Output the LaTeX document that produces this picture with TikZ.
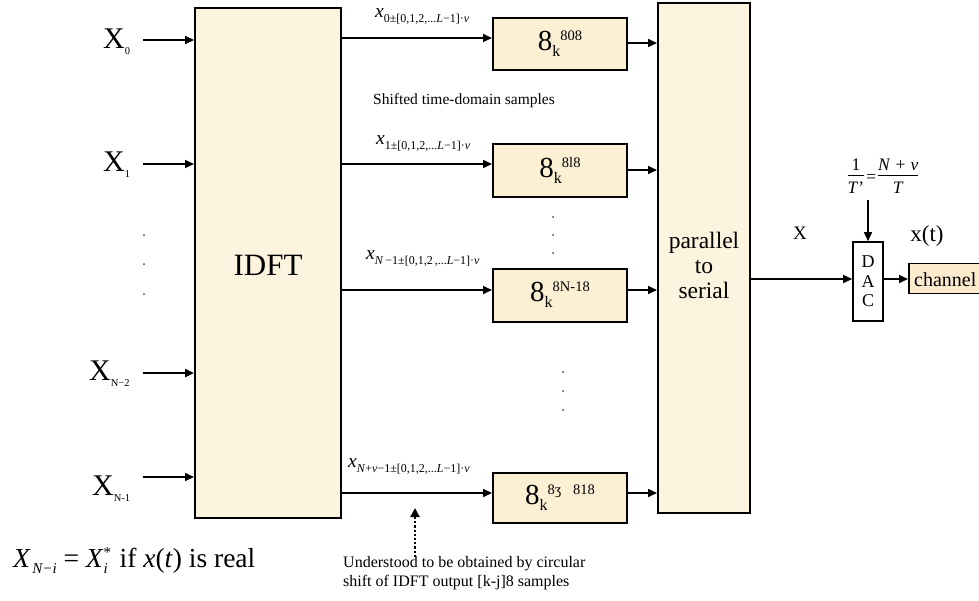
\documentclass[tikz,border=0pt]{standalone}
\usepackage{fontspec}
\setmainfont{Liberation Serif}
\usetikzlibrary{arrows.meta}

% big "8" with subscript k and a superscript index
\newcommand\kblock[1]{{\fontsize{29}{29}\selectfont 8}\raisebox{-6pt}{\fontsize{16}{16}\selectfont k}\raisebox{10pt}{\fontsize{14.5}{14.5}\selectfont #1}}
% input symbol X with a small subscript
\newcommand\insym[1]{{\fontsize{30}{30}\selectfont X}\raisebox{-6pt}{\fontsize{10.5}{10.5}\selectfont #1}}
% sample label x with a long subscript
\newcommand\samp[1]{{\fontsize{19.5}{19.5}\selectfont\itshape x}\raisebox{-5pt}{\fontsize{12}{12}\selectfont #1}}
% simple stacked fraction
\newcommand\stfrac[2]{\begin{tabular}{@{}c@{}}#1\\[-1pt]\hline\rule{0pt}{1.05em}#2\end{tabular}}

\definecolor{creamA}{HTML}{FDF4DF}
\definecolor{creamB}{HTML}{FBEFD4}
\definecolor{creamC}{HTML}{FCEBCD}

\tikzset{
  bigbox/.style={draw, line width=2pt, fill=creamA, inner sep=0pt},
  kbox/.style={draw, line width=2pt, fill=creamB, minimum width=134pt, inner sep=0pt},
  arr/.style={line width=1.6pt, -{Triangle[length=9pt,width=8pt]}},
  dotpt/.style={fill=black!75, draw=none, circle, inner sep=0pt, minimum size=2pt},
}

\begin{document}
\begin{tikzpicture}[x=1pt,y=-1pt]
\useasboundingbox (0,0) rectangle (979,600);

% main blocks
\node[bigbox, minimum width=146pt, minimum height=510pt] (idft) at (268,263) {};
\node[inner sep=0pt, font=\fontsize{31}{31}\selectfont] (idftlbl) at (268,265) {IDFT};
\node[bigbox, minimum width=92pt, minimum height=510pt] (ps) at (704,258) {};
\node[inner sep=0pt, align=center, font=\fontsize{23.5}{25}\selectfont] (pslbl) at (704,265) {parallel\\to\\serial};

% shifted sample blocks
\node[kbox, minimum height=52pt] (b1) at (560,44) {\kblock{808}};
\node[kbox, minimum height=53pt] (b2) at (560,170) {\kblock{8l8}};
\node[kbox, minimum height=53pt] (b3) at (560,295) {\kblock{8N-18}};
\node[kbox, minimum height=50pt] (b4) at (560,498) {\kblock{8ʒ\hspace{12pt}818}};

% inputs
\node[anchor=base west, inner sep=0pt] (X0) at (103,48) {\insym{0}};
\node[anchor=base west, inner sep=0pt] (X1) at (103,171) {\insym{1}};
\node[anchor=base west, inner sep=0pt] (X2) at (89,380) {\insym{N−2}};
\node[anchor=base west, inner sep=0pt] (X3) at (92,495) {\insym{N-1}};
\coordinate (i0) at (143,40);
\coordinate (i1) at (143,164);
\coordinate (i2) at (143,373);
\coordinate (i3) at (143,477);
\draw[arr] (i0) -- (i0 -| idft.west);
\draw[arr] (i1) -- (i1 -| idft.west);
\draw[arr, line width=2.6pt] (i2) -- (i2 -| idft.west);
\draw[arr] (i3) -- (i3 -| idft.west);

\node[dotpt] (ld1) at (144,235) {};
\node[dotpt] (ld2) at (144,264) {};
\node[dotpt] (ld3) at (144,294) {};

% IDFT outputs into the shift blocks
\draw[arr] (idft.east |- 0,38) -- (b1.west |- 0,38);
\draw[arr] (idft.east |- 0,164) -- (b2.west |- 0,164);
\draw[arr] (idft.east |- 0,290) -- (b3.west |- 0,290);
\draw[arr] (idft.east |- 0,493) -- (b4.west |- 0,493);

\node[anchor=base west, inner sep=0pt] (s0) at (375,17) {\samp{0±[0,1,2,...\textit{L}−1]·\textit{ν}}};
\node[anchor=base west, inner sep=0pt] (s1) at (376,144) {\samp{1±[0,1,2,...\textit{L}−1]·\textit{ν}}};
\node[anchor=base west, inner sep=0pt] (s2) at (366,259) {\samp{\textit{N}\,−1±[0,1,2\,,...\textit{L}−1]·\textit{ν}}};
\node[anchor=base west, inner sep=0pt] (s3) at (348,467) {\samp{\textit{N}+\textit{ν}−1±[0,1,2,...\textit{L}−1]·\textit{ν}}};

\node[anchor=base west, inner sep=0pt] (shifted) at (373,104) {\fontsize{15.5}{15.5}\selectfont Shifted time-domain samples};

% shift blocks into parallel to serial
\draw[arr] (b1.east |- 0,43) -- (ps.west |- 0,43);
\draw[arr] (b2.east |- 0,170) -- (ps.west |- 0,170);
\draw[arr] (b3.east |- 0,290) -- (ps.west |- 0,290);
\draw[arr] (b4.east |- 0,493) -- (ps.west |- 0,493);

\node[dotpt] (md1) at (553,217) {};
\node[dotpt] (md2) at (553,235) {};
\node[dotpt] (md3) at (553,253) {};
\node[dotpt] (md4) at (563,372) {};
\node[dotpt] (md5) at (563,391) {};
\node[dotpt] (md6) at (563,410) {};

% DAC and channel
\node[draw, line width=1.6pt, fill=white, minimum width=30pt, minimum height=79pt, inner sep=0pt, align=center,
      font=\fontsize{18}{19.5}\selectfont] (dac) at (868,281.5) {D\\A\\C};
\node[draw, line width=1.6pt, fill=creamC, minimum width=90pt, minimum height=30pt, inner sep=0pt,
      anchor=west] (chan) at (908,278.5) {};
\node[anchor=west, inner sep=0pt] (chtxt) at (914,279.5) {\fontsize{20}{20}\selectfont channel};

\draw[arr] (ps.east |- 0,279) -- (dac.west |- 0,279);
\draw[arr] (dac.east |- 0,279) -- (chan.west |- 0,279);

\node[inner sep=0pt] (Xs) at (800,233) {\fontsize{19}{19}\selectfont X};
\node[inner sep=0pt] (xt) at (927,236) {\fontsize{23}{23}\selectfont x(t)};

\node[inner sep=0pt] (rate) at (883,178)
  {\fontsize{17.5}{19}\selectfont \stfrac{\,1\,}{\textit{T}'}\hspace{2pt}=\hspace{2pt}\stfrac{\textit{N}\hspace{5pt}+\hspace{5pt}\textit{ν}}{\textit{T}}};
\coordinate (rtop) at (868,200);
\draw[arr] (rtop) -- (dac.north);

% note on circular shift
\coordinate (nbot) at (415,557);
\coordinate (ntop) at (415,508);
\draw[line width=2.2pt, dotted, -{Triangle[length=9pt,width=9pt]}] (nbot) -- (ntop);
\node[anchor=base west, inner sep=0pt, align=left, font=\fontsize{16}{19}\selectfont] (note) at (343,586)
  {Understood to be obtained by circular\\shift of IDFT output [k-j]8 samples};

% conjugate symmetry remark
\node[anchor=base west, inner sep=0pt] (conj) at (13,567)
  {\fontsize{27.5}{27.5}\selectfont\textit{X}\hspace{1.5pt}\raisebox{-6pt}{\fontsize{15}{15}\selectfont\textit{N−i}} = \textit{X}\rlap{\raisebox{10pt}{\fontsize{15}{15}\selectfont *}}\raisebox{-6pt}{\fontsize{15}{15}\selectfont\textit{i}}\hspace{5pt} if \textit{x}(\textit{t}) is real};
\end{tikzpicture}
\end{document}
